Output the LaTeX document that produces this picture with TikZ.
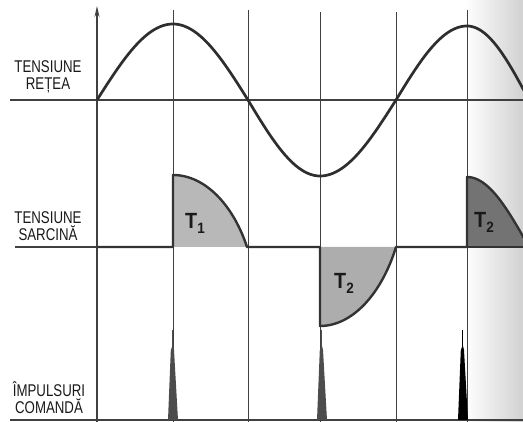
\documentclass[tikz,border=0pt]{standalone}
\usepackage{fontspec}
\newfontfamily\labfont[FakeStretch=0.78]{Liberation Sans}
\newfontfamily\tfont[FakeStretch=0.9]{Liberation Sans}
\usetikzlibrary{arrows.meta}
\begin{document}
\begin{tikzpicture}[x=1pt,y=-1pt,
  gridline/.style={line width=1pt, black!75},
  axisline/.style={line width=1.3pt, black!75},
  wave/.style={line width=2.7pt, black!82, line join=round},
  load/.style={line width=2.4pt, black!80, line join=round},
  lab/.style={font=\labfont\fontsize{17}{17}\selectfont, align=center, inner sep=0pt, text=black!90},
  tlab/.style={font=\tfont\bfseries\fontsize{22}{22}\selectfont, inner sep=0pt, text=black!90}
]
\useasboundingbox (0,0) rectangle (523,422);
% scan tone at the right edge
\shade[left color=white, right color=black!18] (465,0) rectangle (523,422);
% horizontal axes
\draw[axisline] (10,100) -- (523,100);
\draw[axisline] (15,247) -- (97,247);
\draw[axisline] (10,420) -- (523,420);
% grid lines
\foreach \gx/\gt in {173/10, 248/10, 320/12, 396/12, 467/10}
  \draw[gridline] (\gx,\gt) -- (\gx,422);
% vertical axis
\draw[axisline, -{Stealth[length=11pt,width=5pt]}] (97,422) -- (97,6);
% mains voltage
\draw[wave] plot[domain=0:90,samples=30] ({97+76*\x/90},{100-76*sin(\x)})
 -- plot[domain=0:90,samples=30] ({173+75*\x/90},{100-76*cos(\x)})
 -- plot[domain=0:90,samples=30] ({248+72*\x/90},{100+76*sin(\x)})
 -- plot[domain=0:90,samples=30] ({320+76*\x/90},{100+76*cos(\x)})
 -- plot[domain=0:90,samples=30] ({396+71*\x/90},{100-74*sin(\x)})
 -- plot[domain=0:84,samples=30] ({467+62*\x/90},{100-74*cos(\x)});
% load voltage fills
\fill[black!28] (173,247) -- (173,175) -- plot[domain=0:90,samples=40] ({173+74*(\x/90+sin(\x))/2},{247-72*cos(\x)}) -- cycle;
\fill[black!32] (320,247) -- (320,326) -- plot[domain=0:90,samples=40] ({320+76*(\x/90+sin(\x))/2},{247+79*cos(\x)}) -- cycle;
\fill[black!55] (467,247) -- (467,177) -- plot[domain=0:81,samples=40] ({467+62*\x/90},{247-70*cos(\x)}) -- (523,247) -- cycle;
% load voltage trace
\draw[load] (97,247) -- (173,247) -- (173,175) -- plot[domain=0:90,samples=40] ({173+74*(\x/90+sin(\x))/2},{247-72*cos(\x)})
  -- (320,247) -- (320,326) -- plot[domain=0:90,samples=40] ({320+76*(\x/90+sin(\x))/2},{247+79*cos(\x)})
  -- (467,247) -- (467,177) -- plot[domain=0:84,samples=40] ({467+62*\x/90},{247-70*cos(\x)});
\draw[load] (467,247) -- (523,247);
% T labels
\node[tlab] (t1) at (195,223) {T\raisebox{-5pt}{\fontsize{15}{15}\selectfont 1}};
\node[tlab] (t2a) at (344,283) {T\raisebox{-5pt}{\fontsize{15}{15}\selectfont 2}};
\node[tlab] (t2b) at (484,222) {T\raisebox{-5pt}{\fontsize{15}{15}\selectfont 2}};
% pulses
\foreach \p/\c in {172/black!70, 321/black!70, 462/black} {
  \fill[\c] (\p-4,420) -- (\p-1.2,350) -- (\p+0.8,345) -- (\p+2,350) -- (\p+6,420) -- cycle;
  \draw[\c, line width=1pt] (\p,330) -- (\p,350);
}
% labels
\node[lab] (retea) at (48,77) {TENSIUNE\\REȚEA};
\node[lab] (sarcina) at (48,226) {TENSIUNE\\SARCINĂ};
\node[lab] (comanda) at (49,398) {ÎMPULSURI\\COMANDĂ};
\end{tikzpicture}
\end{document}
